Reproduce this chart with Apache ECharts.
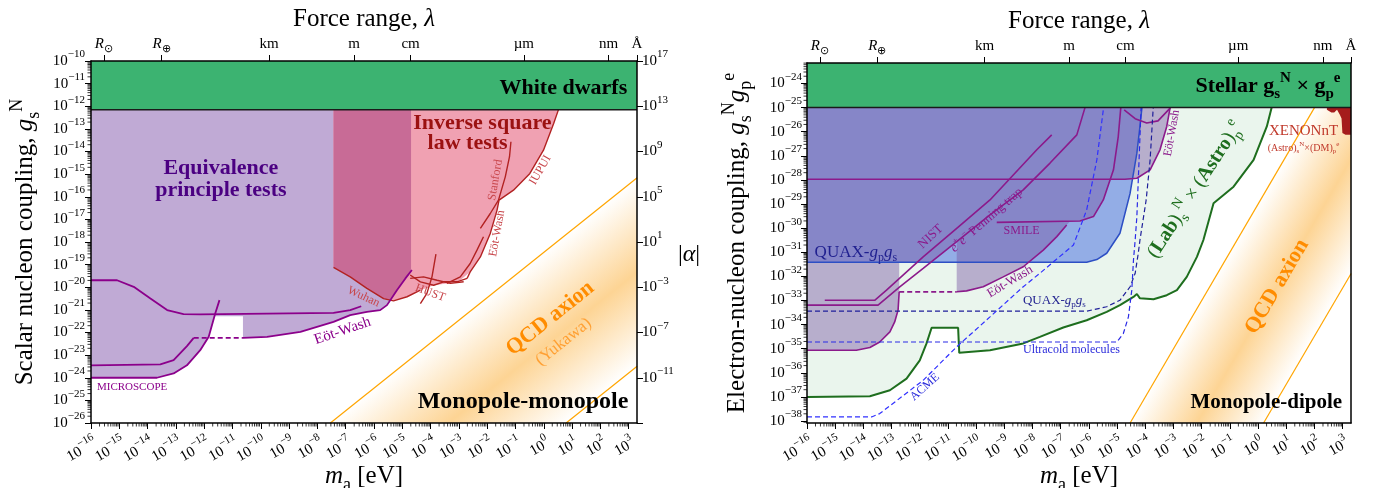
<!DOCTYPE html>
<html><head><meta charset="utf-8">
<script src="https://cdn.jsdelivr.net/npm/echarts@6.0.0/dist/echarts.min.js"></script>
<style>html,body{margin:0;padding:0;background:#fff}#c{width:1375px;height:488px}</style>
</head><body><div id="c"></div>
<script>
// All curve / region points are [log10(m_a / eV), log10(coupling)].
const HBARC_EV_M = 1.97327e-7;                    // eV·m, converts force range to mass
const XMIN = -16;                                  // m_a = 1e-16 eV
const XMAX = Math.log10(HBARC_EV_M / 1e-10);       // right edge = 1 Å
const GL_MIN = -26, GL_MAX = -10;                  // left panel coupling range
const GR_MIN = -38.08, GR_MAX = -23.15;            // right panel coupling range
const ALPHA_SHIFT = 37;                            // log10|alpha| = 2 log10 g + 37
const X_TICKS = [-16,-15,-14,-13,-12,-11,-10,-9,-8,-7,-6,-5,-4,-3,-2,-1,0,1,2,3];
const GR_TICKS = [-38,-37,-36,-35,-34,-33,-32,-31,-30,-29,-28,-27,-26,-25,-24];

const LAMBDA_LABELS = ['{i|R}{sb|⊙}','{i|R}{sb|⊕}','{n|km}','{n|m}','{n|cm}','{n|µm}','{n|nm}','{n|Å}'];
const LAMBDA_METRES = [6.957e8, 6.371e6, 1e3, 1, 1e-2, 1e-6, 1e-9, 1e-10];
const LAMBDA_EXP = LAMBDA_METRES.map(l => Math.log10(HBARC_EV_M / l));

// ---------- Left panel: monopole-monopole ----------
const WD_BOUND = -12.15;
const EP_REGION = [[-16,-12.15],[-4.69,-12.15],[-4.69,-19.24],[-4.89,-19.61],[-5.19,-20.13],[-5.54,-20.79],[-5.78,-21.01],[-6.25,-21.09],[-6.84,-21.23],[-7.43,-21.53],[-8.60,-21.97],[-9.78,-22.19],[-10.63,-22.24],[-10.63,-21.28],[-11.64,-21.28],[-11.84,-22.19],[-12.14,-22.78],[-12.61,-23.45],[-13.08,-23.81],[-13.67,-24.0],[-16,-24.0]];
const ISL_REGION = [[-7.43,-12.15],[-7.43,-19.12],[-6.84,-19.54],[-6.25,-20.05],[-5.66,-20.50],[-5.31,-20.60],[-4.83,-20.42],[-4.36,-20.13],[-3.89,-19.91],[-3.42,-19.83],[-2.95,-19.69],[-2.60,-19.32],[-2.24,-18.66],[-1.89,-17.62],[-1.65,-16.59],[-1.58,-16.15],[-1.07,-15.71],[-0.49,-14.97],[-0.01,-13.94],[0.35,-12.76],[0.52,-12.15]];
const EP_ISL_OVERLAP = [[-7.43,-12.15],[-7.43,-19.12],[-6.84,-19.54],[-6.25,-20.05],[-5.66,-20.50],[-5.44,-20.56],[-5.19,-20.13],[-4.89,-19.61],[-4.69,-19.24],[-4.69,-12.15]];
const MICROSCOPE = [[-16,-24.0],[-13.67,-24.0],[-13.08,-23.81],[-12.61,-23.45],[-12.14,-22.78],[-11.84,-22.19],[-11.61,-21.16],[-11.46,-20.57]];
const EP_UPPER = [[-16,-19.69],[-15.08,-19.69],[-14.49,-19.98],[-13.90,-20.50],[-13.31,-21.01],[-12.73,-21.19],[-12.14,-21.20],[-7.43,-21.13],[-6.84,-21.01],[-6.45,-20.84]];
const EW_EP_LEFT = [[-16,-23.45],[-13.55,-23.41],[-13.08,-23.22],[-12.61,-22.60],[-12.37,-22.24]];
const EW_EP_GAP = [[-12.37,-22.24],[-10.63,-22.24]];
const EW_EP_RIGHT = [[-10.63,-22.24],[-9.78,-22.19],[-8.60,-21.97],[-7.43,-21.53],[-6.84,-21.23],[-6.25,-21.09],[-5.78,-21.01],[-5.54,-20.79],[-5.19,-20.13],[-4.89,-19.61],[-4.66,-19.24]];
const WUHAN = [[-7.43,-19.12],[-6.84,-19.54],[-6.25,-20.05],[-5.66,-20.50],[-5.31,-20.60],[-4.83,-20.42],[-4.36,-20.13]];
const ISL_B = [[-4.36,-20.72],[-4.13,-20.27],[-3.95,-19.54],[-3.81,-18.54]];
const HUST_A = [[-4.72,-19.46],[-4.36,-19.76],[-3.89,-19.91],[-3.54,-19.76],[-3.07,-19.76],[-2.71,-19.61]];
const HUST_B = [[-4.72,-19.61],[-4.25,-19.54],[-3.77,-19.69],[-3.30,-19.83],[-2.83,-19.76]];
const EW_ISL = [[-3.42,-19.83],[-2.95,-19.54],[-2.60,-18.95],[-2.36,-18.36],[-2.13,-17.77]];
const ISL_EDGE = [[-2.71,-19.61],[-2.60,-19.32],[-2.24,-18.66],[-1.89,-17.62],[-1.65,-16.59],[-1.58,-16.15]];
const STANFORD = [[-2.24,-17.40],[-1.89,-16.74],[-1.60,-16.15],[-1.36,-15.12],[-1.21,-14.23],[-1.16,-13.57]];
const IUPUI = [[-1.58,-16.15],[-1.07,-15.71],[-0.49,-14.97],[-0.01,-13.94],[0.35,-12.76],[0.52,-12.15]];
const QCD_MM_UPPER = [[-7.54,-26.0],[3.30,-15.16]];
const QCD_MM_LOWER = [[0.79,-26.0],[3.30,-23.49]];

// ---------- Right panel: monopole-dipole ----------
const STELLAR_BOUND = -25.0;
const LABASTRO_EDGE = [[-16,-37.00],[-13.77,-36.97],[-13.06,-36.72],[-12.47,-36.24],[-12.00,-35.48],[-11.76,-34.78],[-11.58,-34.13],[-10.64,-34.13],[-10.60,-35.17],[-9.51,-35.06],[-8.33,-34.78],[-7.74,-34.51],[-6.91,-34.12],[-6.08,-33.82],[-5.37,-33.47],[-4.90,-33.19],[-4.42,-32.85],[-4.30,-32.73],[-4.19,-32.91],[-3.71,-32.95],[-3.24,-32.78],[-2.88,-32.57],[-2.53,-32.02],[-2.17,-31.19],[-1.94,-30.49],[-1.58,-28.97],[-0.87,-28.28],[-0.16,-27.17],[0.31,-25.78],[0.49,-24.95]];
const QUAX_EDGE = [[-16,-31.41],[-6.08,-31.41],[-5.72,-31.30],[-5.37,-31.04],[-4.90,-30.21],[-4.54,-28.55],[-4.30,-26.89],[-4.19,-25.78],[-4.12,-25.0]];
const LAB_MD_REGION = [[-16,-25.0],[-16,-35.06],[-14.25,-35.06],[-13.77,-34.95],[-13.42,-34.72],[-13.06,-34.30],[-12.89,-33.89],[-12.77,-33.40],[-12.73,-32.64],[-12.73,-31.41],[-11.60,-31.41],[-11.17,-30.98],[-10.69,-30.56],[-10.69,-32.64],[-10.34,-32.60],[-9.75,-32.43],[-9.04,-32.02],[-8.33,-31.60],[-7.62,-30.91],[-7.14,-30.35],[-6.79,-29.87],[-6.67,-29.72],[-6.32,-29.70],[-5.84,-29.52],[-5.49,-28.83],[-5.25,-27.97],[-4.72,-27.97],[-4.30,-27.93],[-3.83,-27.58],[-3.48,-26.75],[-3.24,-25.78],[-3.12,-25.0]];
const LINE_28 = [[-16,-27.97],[-4.72,-27.97],[-4.30,-27.93],[-3.83,-27.58],[-3.48,-26.75],[-3.24,-25.78],[-3.12,-25.0]];
const NIST = [[-15.37,-32.99],[-13.60,-32.99],[-13.18,-32.57],[-11.88,-31.19],[-10.69,-30.01],[-9.51,-28.83],[-7.85,-26.75],[-7.32,-26.13]];
const PENNING = [[-16,-33.19],[-13.48,-33.19],[-12.71,-32.43],[-11.88,-31.67],[-10.69,-30.56],[-9.51,-29.45],[-8.33,-28.41],[-7.38,-27.30],[-6.43,-26.13],[-6.14,-25.0]];
const SMILE = [[-9.27,-29.76],[-6.32,-29.70],[-5.84,-29.52],[-5.49,-28.83],[-5.13,-27.58],[-4.96,-26.20],[-4.87,-25.0]];
const EW_MD = [[-10.69,-32.64],[-10.34,-32.60],[-9.75,-32.43],[-9.04,-32.02],[-8.33,-31.60],[-7.62,-30.91],[-7.14,-30.35],[-6.79,-29.87]];
const EW_MD_LOW = [[-16,-35.06],[-14.25,-35.06],[-13.77,-34.95],[-13.42,-34.72],[-13.06,-34.30],[-12.89,-33.89],[-12.77,-33.40],[-12.73,-32.64]];
const EW_MD_GAP = [[-12.73,-32.64],[-10.69,-32.64]];
const EW_MD_ARC = [[-4.75,-25.09],[-4.36,-25.46],[-3.95,-25.64],[-3.55,-25.55],[-3.12,-25.02]];
const QUAX_PROJ = [[-16,-33.44],[-6.08,-33.44],[-5.37,-33.26],[-4.90,-32.99],[-4.54,-32.43],[-4.36,-31.87],[-4.25,-31.04],[-4.19,-30.49],[-3.97,-28.83],[-3.83,-27.17],[-3.72,-25.0]];
const ULTRACOLD = [[-16,-34.72],[-5.01,-34.72],[-4.78,-34.37],[-4.60,-33.68],[-4.48,-32.57],[-4.42,-31.32],[-4.36,-30.49],[-4.30,-29.52],[-4.15,-25.0]];
const ACME = [[-16,-37.83],[-13.71,-37.83],[-13.42,-37.69],[-11.88,-36.31],[-10.69,-34.92],[-9.51,-33.68],[-8.33,-32.43],[-7.74,-31.87],[-6.55,-30.70],[-6.08,-29.24],[-5.72,-27.17],[-5.49,-25.09]];
const XENON_REGION = [[2.44,-25.0],[2.44,-25.09],[2.60,-25.20],[2.70,-25.20],[2.80,-25.09],[2.90,-25.30],[2.96,-25.45],[2.99,-26.05],[3.10,-26.13],[3.30,-26.13],[3.30,-25.0]];
const QCD_MD_LEFT = [[-4.54,-38.08],[2.0,-25.0]];
const QCD_MD_RIGHT = [[0.195,-38.08],[3.30,-31.88]];

// ---------- styling helpers ----------
const F = "'Liberation Serif','Times New Roman',serif";
function makeRich(size, color, bold, ec) {
  const w = bold ? 'bold' : 'normal';
  const c = ec ? {color: color} : {fill: color};
  const base = Object.assign({fontFamily: F, fontSize: size, fontWeight: w, lineHeight: Math.round(size * 1.4)}, c);
  const s = Math.round(size * 0.7);
  return {
    n: base,
    i: Object.assign({}, base, {fontStyle: 'italic'}),
    b: Object.assign({}, base, {fontWeight: 'bold'}),
    sp: Object.assign({fontFamily: F, fontSize: s, fontWeight: w, lineHeight: Math.round(size * 0.55), verticalAlign: 'top'}, c),
    sb: Object.assign({fontFamily: F, fontSize: s, fontWeight: w, lineHeight: Math.round(size * 0.9), verticalAlign: 'bottom'}, c)
  };
}
function tickRich(ec) {
  const c = ec ? {color: '#000'} : {fill: '#000'};
  return {
    b: Object.assign({fontFamily: F, fontSize: 15, lineHeight: 24}, c),
    s: Object.assign({fontFamily: F, fontSize: 11, lineHeight: 10, verticalAlign: 'top'}, c)
  };
}
const TICK_RICH = tickRich(true), TICK_RICH_Z = tickRich(false);
const LAM_RICH = {
  n: {fontFamily: F, fontSize: 15, lineHeight: 22, color: '#000'},
  i: {fontFamily: F, fontSize: 15, lineHeight: 22, fontStyle: 'italic', color: '#000'},
  sb: {fontFamily: F, fontSize: 11, lineHeight: 14, verticalAlign: 'bottom', color: '#000'}
};
const TITLE_RICH = makeRich(25, '#000', false, true);
function isInt(v) { return Math.abs(v - Math.round(v)) < 1e-6; }
function dec(e) { e = Math.round(e); return '{b|10}{s|' + (e < 0 ? '\u2212' + (-e) : String(e)) + '}'; }
function lamLabel(v) { for (let i = 0; i < LAMBDA_EXP.length; i++) if (Math.abs(v - LAMBDA_EXP[i]) < 1e-4) return LAMBDA_LABELS[i]; return ''; }
const LINE = {show: true, onZero: false, lineStyle: {color: '#000', width: 1.5}};

function bottomAxis(g) {
  return {gridIndex: g, type: 'value', position: 'bottom', min: XMIN, max: XMAX, z: 10,
    axisLine: LINE, axisTick: {show: true, length: 6, customValues: X_TICKS, lineStyle: {color: '#000', width: 1}},
    axisLabel: {show: false}, splitLine: {show: false},
    name: '{i|m}{sb|a}{n| [eV]}', nameLocation: 'middle', nameGap: 36, nameTextStyle: {rich: TITLE_RICH}};
}
function topAxis(g) {
  return {gridIndex: g, type: 'value', position: 'top', min: XMIN, max: XMAX, z: 10,
    axisLine: LINE, axisTick: {show: true, length: 6, customValues: LAMBDA_EXP, lineStyle: {color: '#000', width: 1}},
    axisLabel: {show: true, customValues: LAMBDA_EXP, margin: 6, formatter: lamLabel, rich: LAM_RICH},
    splitLine: {show: false},
    name: '{n|Force range, }{i|λ}', nameLocation: 'middle', nameGap: 23, nameTextStyle: {rich: TITLE_RICH}};
}

function xi(g) { return g ? 2 : 0; }
function region(g, pts, fill, z) {
  return {type: 'custom', xAxisIndex: xi(g), yAxisIndex: xi(g), clip: true, silent: true, z: z || 2, data: [pts[0]],
    renderItem: (p, api) => ({type: 'polygon', shape: {points: pts.map(q => api.coord(q))}, style: {fill: fill}})};
}
function curve(g, pts, color, width, dash, z) {
  return {type: 'line', xAxisIndex: xi(g), yAxisIndex: xi(g), data: pts, symbol: 'none', showSymbol: false,
    silent: true, clip: true, z: z || 3, animation: false,
    lineStyle: {color: color, width: width, type: dash ? [5, 3] : 'solid'}};
}
function qcdBand(g, up, lo) {
  const poly = [up[0], up[1], [lo[1][0], up[1][1]], lo[1], lo[0]];
  return {type: 'custom', xAxisIndex: xi(g), yAxisIndex: xi(g), clip: true, silent: true, z: 2, data: [up[0]],
    renderItem: (p, api) => {
      const P = poly.map(q => api.coord(q));
      const A = api.coord(up[0]), B = api.coord(up[1]), C = api.coord(lo[0]);
      let ux = B[0] - A[0], uy = B[1] - A[1]; const L = Math.hypot(ux, uy); ux /= L; uy /= L;
      let nx = -uy, ny = ux; let d = (C[0] - A[0]) * nx + (C[1] - A[1]) * ny;
      if (d < 0) { nx = -nx; ny = -ny; d = -d; }
      const col = 'rgba(253,212,148,';
      const grad = new echarts.graphic.LinearGradient(A[0], A[1], A[0] + nx * d, A[1] + ny * d,
        [{offset: 0, color: col + '0)'}, {offset: 0.5, color: col + '1)'}, {offset: 1, color: col + '0)'}], true);
      return {type: 'polygon', shape: {points: P}, style: {fill: grad}};
    }};
}
function band(g, bound, top) {
  return [region(g, [[XMIN, bound], [XMAX, bound], [XMAX, top], [XMIN, top]], '#3cb371', 4),
          curve(g, [[XMIN, bound], [XMAX, bound]], '#1a1a1a', 1.5, false, 4)];
}
function minorTicks(g, axis, vals, len) {
  const ymin = g ? GR_MIN : GL_MIN;
  return {type: 'custom', xAxisIndex: xi(g), yAxisIndex: xi(g), clip: false, silent: true, z: 11,
    data: vals.map(v => axis === 'x' ? [v, ymin] : [XMIN, v]),
    renderItem: (p, api) => {
      const c = api.coord([api.value(0), api.value(1)]);
      const shape = axis === 'x' ? {x1: c[0], y1: c[1], x2: c[0], y2: c[1] + len} : {x1: c[0], y1: c[1], x2: c[0] - len, y2: c[1]};
      return {type: 'line', shape: shape, style: {stroke: '#000', lineWidth: 0.8}};
    }};
}
function minorVals(lo, hi) {
  const out = [];
  for (let n = Math.floor(lo); n < hi; n++) for (let k = 2; k <= 9; k++) { const v = n + Math.log10(k); if (v > lo && v < hi) out.push(v); }
  return out;
}
// rotated decade labels under the m_a axis (anchored to the tick positions)
function xTickLabels(g) {
  const ymin = g ? GR_MIN : GL_MIN;
  return {type: 'custom', xAxisIndex: xi(g), yAxisIndex: xi(g), clip: false, silent: true, z: 12,
    data: X_TICKS.map(v => [v, ymin]),
    renderItem: (p, api) => {
      const v = api.value(0);
      const c = api.coord([v, api.value(1)]);
      return {type: 'text', x: c[0] + 5, y: c[1] + 19, rotation: 30 * Math.PI / 180,
        style: {text: dec(v), rich: TICK_RICH_Z, fill: '#000', fontFamily: F, fontSize: 15, align: 'right', verticalAlign: 'middle'}};
    }};
}
function texts(g, list) {
  return {type: 'custom', xAxisIndex: xi(g), yAxisIndex: xi(g), clip: false, silent: true, z: 12,
    data: list.map(a => a.at),
    renderItem: (p, api) => {
      const a = list[p.dataIndex];
      const c = api.coord(a.at);
      const style = {text: a.t, fill: a.color || '#000', fontFamily: F, fontSize: a.size, fontWeight: a.bold ? 'bold' : 'normal',
        align: a.align || 'center', verticalAlign: 'middle', lineHeight: a.lh || Math.round(a.size * 1.2)};
      if (a.t.indexOf('{') >= 0) style.rich = makeRich(a.size, a.color || '#000', a.bold, false);
      return {type: 'text', x: c[0] + (a.dx || 0), y: c[1] + (a.dy || 0), rotation: (a.rot || 0) * Math.PI / 180, style: style};
    }};
}

const RED = '#b22222', RED_T = '#c8464b', PUR = '#8b008b', PUR2 = '#8b1a8b';
const ANN_LEFT = [
  {t: 'White dwarfs', at: [2.95, -11.19], size: 22, bold: 1, align: 'right'},
  {t: 'Equivalence\nprinciple tests', at: [-11.41, -15.22], size: 22, bold: 1, color: '#4b0082', lh: 22},
  {t: 'Inverse square', at: [-2.17, -12.76], size: 22, bold: 1, color: '#9b1111'},
  {t: 'law tests', at: [-2.69, -13.64], size: 22, bold: 1, color: '#9b1111'},
  {t: 'Stanford', at: [-1.71, -15.26], rot: 80, size: 12, color: RED_T},
  {t: 'IUPUI', at: [-0.12, -14.82], rot: 60, size: 12, color: RED_T},
  {t: 'Eöt-Wash', at: [-1.65, -17.62], rot: 80, size: 12, color: RED_T},
  {t: 'HUST', at: [-4.01, -20.25], rot: -20, size: 12, color: RED_T},
  {t: 'Wuhan', at: [-6.37, -20.42], rot: -25, size: 12, color: RED_T},
  {t: 'Eöt-Wash', at: [-7.11, -21.93], rot: 19, size: 15, color: PUR},
  {t: 'MICROSCOPE', at: [-15.79, -24.41], size: 11, align: 'left', color: PUR},
  {t: 'QCD axion', at: [0.23, -21.38], rot: 38.6, size: 22, bold: 1, color: '#ff8c00'},
  {t: '(Yukawa)', at: [0.70, -22.41], rot: 38.6, size: 17, color: '#ffa033'},
  {t: 'Monopole-monopole', at: [2.99, -25.07], size: 24, bold: 1, align: 'right'},
  {t: '{n||}{i|α}{n||}', at: [XMAX, -18.58], dx: 52, size: 24}
];
const ANN_RIGHT = [
  {t: '{n|Stellar g}{sb|s}{sp|N}{n| × g}{sb|p}{sp|e}', at: [2.92, -24.12], size: 22, bold: 1, align: 'right'},
  {t: '{n|QUAX-}{i|g}{sb|p}{i|g}{sb|s}', at: [-15.73, -31.0], size: 17, align: 'left', color: '#1f1f8f'},
  {t: 'NIST', at: [-11.61, -30.35], rot: 43, size: 13, color: PUR2},
  {t: '{i|e}{sp|+}{i|e}{sp|−}{n| Penning trap}', at: [-9.63, -29.66], rot: 41, size: 13, color: PUR2},
  {t: 'SMILE', at: [-8.39, -30.10], size: 12, color: PUR2},
  {t: 'Eöt-Wash', at: [-8.80, -32.22], rot: 31, size: 13, color: PUR2},
  {t: 'Eöt-Wash', at: [-3.06, -26.06], rot: 80, size: 12, color: PUR2},
  {t: '{n|QUAX-}{i|g}{sb|p}{i|g}{sb|s}', at: [-8.34, -32.99], size: 13, align: 'left', color: '#1f1f8f'},
  {t: 'Ultracold molecules', at: [-8.34, -35.03], size: 12, align: 'left', color: '#2b2bdb'},
  {t: 'ACME', at: [-11.82, -36.59], rot: 42, size: 12, color: '#2b2bdb'},
  {t: '{n|(}{b|Lab}{n|)}{sb|s}{sp|N}{n| × (}{b|Astro}{n|)}{sb|p}{sp|e}', at: [-2.23, -28.41], rot: 57, size: 20, color: '#1e6e1e'},
  {t: 'XENONnT', at: [1.61, -25.99], size: 15, color: '#c0392b'},
  {t: '{n|(Astro)}{sb|s}{sp|N}{n|×(DM)}{sb|p}{sp|e}', at: [1.61, -26.67], size: 10, color: '#c0392b'},
  {t: 'QCD axion', at: [0.67, -32.43], rot: 59.7, size: 22, bold: 1, color: '#ff8c00'},
  {t: 'Monopole-dipole', at: [2.98, -37.25], size: 21, bold: 1, align: 'right'}
];

const series = [
  region(0, EP_REGION, '#c0aad5'),
  region(0, ISL_REGION, '#f0a1b2'),
  region(0, EP_ISL_OVERLAP, '#c86b96'),
  qcdBand(0, QCD_MM_UPPER, QCD_MM_LOWER),
  curve(0, QCD_MM_UPPER, '#ffa500', 1.2), curve(0, QCD_MM_LOWER, '#ffa500', 1.2),
  curve(0, WUHAN, RED, 1.4), curve(0, ISL_B, RED, 1.4), curve(0, HUST_A, RED, 1.4), curve(0, HUST_B, RED, 1.4),
  curve(0, EW_ISL, RED, 1.4), curve(0, ISL_EDGE, RED, 1.4), curve(0, STANFORD, RED, 1.4), curve(0, IUPUI, RED, 1.4),
  curve(0, MICROSCOPE, PUR, 1.8), curve(0, EP_UPPER, PUR, 1.8), curve(0, EW_EP_LEFT, PUR, 1.8),
  curve(0, EW_EP_GAP, PUR, 1.8, true), curve(0, EW_EP_RIGHT, PUR, 1.8),
  ...band(0, WD_BOUND, GL_MAX),
  minorTicks(0, 'x', minorVals(XMIN, XMAX), 3.5), minorTicks(0, 'y', minorVals(GL_MIN, GL_MAX), 3.5),
  xTickLabels(0),
  texts(0, ANN_LEFT),

  region(1, [[XMIN, STELLAR_BOUND]].concat(LABASTRO_EDGE), '#eaf5ed'),
  region(1, [[XMIN, STELLAR_BOUND]].concat(QUAX_EDGE), '#93ade6'),
  region(1, LAB_MD_REGION, 'rgba(118,84,162,0.44)'),
  qcdBand(1, QCD_MD_LEFT, QCD_MD_RIGHT),
  curve(1, QCD_MD_LEFT, '#ffa500', 1.2), curve(1, QCD_MD_RIGHT, '#ffa500', 1.2),
  region(1, XENON_REGION, '#a51c1c', 3),
  curve(1, LABASTRO_EDGE, '#1e6e1e', 2),
  curve(1, QUAX_EDGE, '#2d4fc4', 1.5),
  curve(1, LINE_28, PUR2, 1.6), curve(1, NIST, PUR2, 1.6), curve(1, PENNING, PUR2, 1.6), curve(1, SMILE, PUR2, 1.6),
  curve(1, EW_MD, PUR2, 1.6), curve(1, EW_MD_LOW, PUR2, 1.6), curve(1, EW_MD_GAP, PUR2, 1.6, true), curve(1, EW_MD_ARC, PUR2, 1.6),
  curve(1, QUAX_PROJ, '#1f1f9a', 1.2, true), curve(1, ULTRACOLD, '#2a2ae6', 1.2, true), curve(1, ACME, '#3030ff', 1.2, true),
  ...band(1, STELLAR_BOUND, GR_MAX),
  minorTicks(1, 'x', minorVals(XMIN, XMAX), 3.5), minorTicks(1, 'y', minorVals(GR_MIN, GR_MAX), 3.5),
  xTickLabels(1),
  texts(1, ANN_RIGHT)
];

const option = {
  animation: false,
  backgroundColor: '#fff',
  grid: [
    {left: 91, top: 61, width: 546, height: 362, containLabel: false, outerBoundsMode: 'none'},
    {left: 807, top: 63, width: 544, height: 360, containLabel: false, outerBoundsMode: 'none'}
  ],
  xAxis: [bottomAxis(0), topAxis(0), bottomAxis(1), topAxis(1)],
  yAxis: [
    {gridIndex: 0, type: 'value', position: 'left', min: GL_MIN, max: GL_MAX, interval: 1, z: 10,
      axisLine: LINE, axisTick: {show: true, length: 6, lineStyle: {color: '#000'}},
      axisLabel: {margin: 6, formatter: v => isInt(v) ? dec(v) : '', rich: TICK_RICH}, splitLine: {show: false},
      name: '{n|Scalar nucleon coupling, }{i|g}{sb|s}{sp|N}', nameLocation: 'middle', nameRotate: 90, nameGap: 48,
      nameTextStyle: {rich: TITLE_RICH}},
    {gridIndex: 0, type: 'value', position: 'right', min: GL_MIN, max: GL_MAX, interval: 2, z: 10,
      axisLine: LINE, axisTick: {show: true, length: 6, lineStyle: {color: '#000'}},
      axisLabel: {margin: 5, formatter: v => (isInt(v) && v > GL_MIN + 0.5) ? dec(2 * v + ALPHA_SHIFT) : '', rich: TICK_RICH},
      splitLine: {show: false}},
    {gridIndex: 1, type: 'value', position: 'left', min: GR_MIN, max: GR_MAX, z: 10,
      axisLine: LINE, axisTick: {show: true, length: 6, customValues: GR_TICKS, lineStyle: {color: '#000'}},
      axisLabel: {margin: 5, customValues: GR_TICKS, formatter: v => isInt(v) ? dec(v) : '', rich: TICK_RICH}, splitLine: {show: false},
      name: '{n|Electron-nucleon coupling, }{i|g}{sb|s}{sp|N}{i|g}{sb|p}{sp|e}', nameLocation: 'middle', nameRotate: 90, nameGap: 52,
      nameTextStyle: {rich: TITLE_RICH}},
    {gridIndex: 1, type: 'value', position: 'right', min: GR_MIN, max: GR_MAX, z: 10,
      axisLine: LINE, axisTick: {show: false}, axisLabel: {show: false}, splitLine: {show: false}}
  ],
  series: series
};
const chart = echarts.init(document.getElementById('c'), null, {renderer: 'canvas'});
chart.setOption(option);
</script>
</body></html>
